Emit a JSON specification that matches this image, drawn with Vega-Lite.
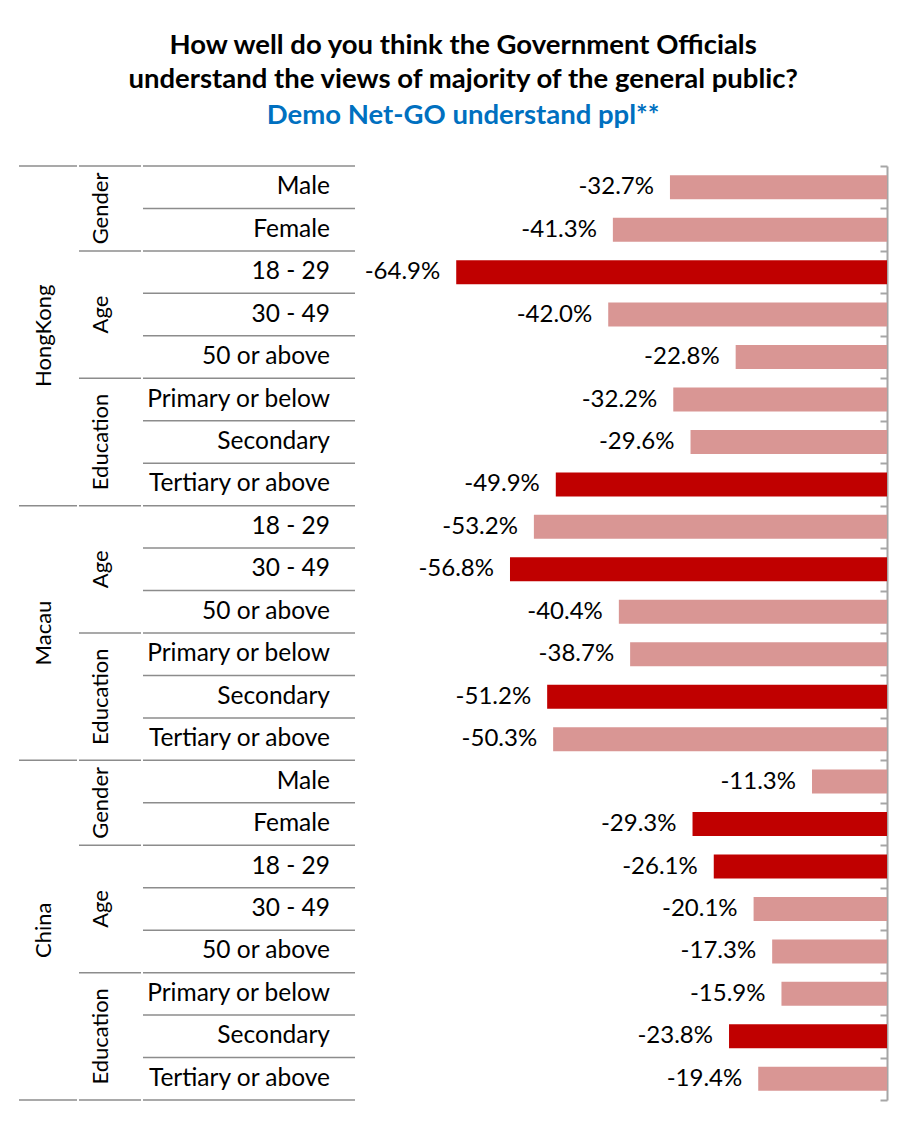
{
  "$schema": "https://vega.github.io/schema/vega-lite/v6.json",
  "padding": {"left": 18, "top": 32, "right": 5, "bottom": 5},
  "background": "white",
  "config": {
    "font": "Lato",
    "view": {"stroke": null},
    "locale": {"number": {"decimal": ".", "thousands": ",", "grouping": [3], "currency": ["$", ""], "minus": "-"}}
  },
  "title": {
    "text": ["How well do you think the Government Officials", "understand the views of majority of the general public?"],
    "subtitle": "Demo Net-GO understand ppl**",
    "anchor": "middle",
    "frame": "bounds",
    "dx": 10,
    "font": "Lato",
    "fontSize": 27.5,
    "fontWeight": "bold",
    "color": "#000000",
    "lineHeight": 34,
    "subtitleFont": "Lato",
    "subtitleFontSize": 27.5,
    "subtitleFontWeight": "bold",
    "subtitleColor": "#0070C0",
    "subtitleLineHeight": 34,
    "subtitlePadding": 8,
    "offset": 36
  },
  "data": {
    "values": [
      {"region": "HongKong", "group": "Gender", "label": "Male", "value": -0.327, "flag": "light"},
      {"region": "HongKong", "group": "Gender", "label": "Female", "value": -0.413, "flag": "light"},
      {"region": "HongKong", "group": "Age", "label": "18 - 29", "value": -0.649, "flag": "dark"},
      {"region": "HongKong", "group": "Age", "label": "30 - 49", "value": -0.420, "flag": "light"},
      {"region": "HongKong", "group": "Age", "label": "50 or above", "value": -0.228, "flag": "light"},
      {"region": "HongKong", "group": "Education", "label": "Primary or below", "value": -0.322, "flag": "light"},
      {"region": "HongKong", "group": "Education", "label": "Secondary", "value": -0.296, "flag": "light"},
      {"region": "HongKong", "group": "Education", "label": "Tertiary or above", "value": -0.499, "flag": "dark"},
      {"region": "Macau", "group": "Age", "label": "18 - 29", "value": -0.532, "flag": "light"},
      {"region": "Macau", "group": "Age", "label": "30 - 49", "value": -0.568, "flag": "dark"},
      {"region": "Macau", "group": "Age", "label": "50 or above", "value": -0.404, "flag": "light"},
      {"region": "Macau", "group": "Education", "label": "Primary or below", "value": -0.387, "flag": "light"},
      {"region": "Macau", "group": "Education", "label": "Secondary", "value": -0.512, "flag": "dark"},
      {"region": "Macau", "group": "Education", "label": "Tertiary or above", "value": -0.503, "flag": "light"},
      {"region": "China", "group": "Gender", "label": "Male", "value": -0.113, "flag": "light"},
      {"region": "China", "group": "Gender", "label": "Female", "value": -0.293, "flag": "dark"},
      {"region": "China", "group": "Age", "label": "18 - 29", "value": -0.261, "flag": "dark"},
      {"region": "China", "group": "Age", "label": "30 - 49", "value": -0.201, "flag": "light"},
      {"region": "China", "group": "Age", "label": "50 or above", "value": -0.173, "flag": "light"},
      {"region": "China", "group": "Education", "label": "Primary or below", "value": -0.159, "flag": "light"},
      {"region": "China", "group": "Education", "label": "Secondary", "value": -0.238, "flag": "dark"},
      {"region": "China", "group": "Education", "label": "Tertiary or above", "value": -0.194, "flag": "light"}
    ]
  },
  "transform": [
    {"window": [{"op": "row_number", "as": "row"}, {"op": "count", "as": "n"}], "frame": [null, null]},
    {"window": [{"op": "row_number", "as": "gi"}, {"op": "count", "as": "gn"}], "groupby": ["region", "group"], "sort": [{"field": "row"}], "frame": [null, null]},
    {"window": [{"op": "row_number", "as": "ri"}, {"op": "count", "as": "rn"}], "groupby": ["region"], "sort": [{"field": "row"}], "frame": [null, null]}
  ],
  "resolve": {"scale": {"y": "shared"}},
  "spacing": 0,
  "hconcat": [
    {
      "width": 58,
      "height": 934,
      "layer": [
        {
          "transform": [{"filter": "datum.ri == 1"}],
          "mark": {"type": "rule", "color": "#8C8C8C", "strokeWidth": 1.5},
          "encoding": {"y": {"field": "row", "type": "ordinal", "bandPosition": 0, "axis": null, "scale": {"paddingInner": 0, "paddingOuter": 0}}}
        },
        {
          "transform": [{"filter": "datum.row == datum.n"}],
          "mark": {"type": "rule", "color": "#8C8C8C", "strokeWidth": 1.5},
          "encoding": {"y": {"field": "row", "type": "ordinal", "bandPosition": 1, "axis": null}}
        },
        {
          "transform": [{"filter": "datum.rn % 2 == 0 && datum.ri == datum.rn / 2"}],
          "mark": {"type": "text", "angle": 270, "fontSize": 22, "dy": -4, "color": "#000000"},
          "encoding": {"y": {"field": "row", "type": "ordinal", "bandPosition": 1, "axis": null}, "text": {"field": "region"}}
        },
        {
          "transform": [{"filter": "datum.rn % 2 == 1 && datum.ri == (datum.rn + 1) / 2"}],
          "mark": {"type": "text", "angle": 270, "fontSize": 22, "dy": -4, "color": "#000000"},
          "encoding": {"y": {"field": "row", "type": "ordinal", "bandPosition": 0.5, "axis": null}, "text": {"field": "region"}}
        }
      ]
    },
    {
      "width": 62,
      "height": 934,
      "layer": [
        {
          "transform": [{"filter": "datum.gi == 1"}],
          "mark": {"type": "rule", "color": "#8C8C8C", "strokeWidth": 1.5},
          "encoding": {"y": {"field": "row", "type": "ordinal", "bandPosition": 0, "axis": null}}
        },
        {
          "transform": [{"filter": "datum.row == datum.n"}],
          "mark": {"type": "rule", "color": "#8C8C8C", "strokeWidth": 1.5},
          "encoding": {"y": {"field": "row", "type": "ordinal", "bandPosition": 1, "axis": null}}
        },
        {
          "transform": [{"filter": "datum.gn % 2 == 0 && datum.gi == datum.gn / 2"}],
          "mark": {"type": "text", "angle": 270, "fontSize": 22, "dy": -9, "color": "#000000"},
          "encoding": {"y": {"field": "row", "type": "ordinal", "bandPosition": 1, "axis": null}, "text": {"field": "group"}}
        },
        {
          "transform": [{"filter": "datum.gn % 2 == 1 && datum.gi == (datum.gn + 1) / 2"}],
          "mark": {"type": "text", "angle": 270, "fontSize": 22, "dy": -9, "color": "#000000"},
          "encoding": {"y": {"field": "row", "type": "ordinal", "bandPosition": 0.5, "axis": null}, "text": {"field": "group"}}
        }
      ]
    },
    {
      "width": 212,
      "height": 934,
      "layer": [
        {
          "mark": {"type": "rule", "color": "#8C8C8C", "strokeWidth": 1.5},
          "encoding": {"y": {"field": "row", "type": "ordinal", "bandPosition": 0, "axis": null}}
        },
        {
          "transform": [{"filter": "datum.row == datum.n"}],
          "mark": {"type": "rule", "color": "#8C8C8C", "strokeWidth": 1.5},
          "encoding": {"y": {"field": "row", "type": "ordinal", "bandPosition": 1, "axis": null}}
        },
        {
          "mark": {"type": "text", "align": "right", "dx": 81, "fontSize": 24.5, "color": "#000000"},
          "encoding": {"y": {"field": "row", "type": "ordinal", "axis": null}, "text": {"field": "label"}}
        }
      ]
    },
    {
      "width": 531,
      "height": 934,
      "encoding": {
        "y": {"field": "row", "type": "ordinal", "axis": {"orient": "right", "labels": false, "title": null, "tickBand": "extent", "tickSize": -7, "domainColor": "#A6A6A6", "tickColor": "#A6A6A6", "domainWidth": 2, "tickWidth": 2, "grid": false}}
      },
      "layer": [
        {
          "mark": {"type": "bar", "height": {"band": 0.565}},
          "encoding": {
            "x": {"field": "value", "type": "quantitative", "scale": {"domain": [-0.8, 0], "nice": false}, "axis": null},
            "color": {"field": "flag", "type": "nominal", "scale": {"domain": ["dark", "light"], "range": ["#C00000", "#D99694"]}, "legend": null}
          }
        },
        {
          "mark": {"type": "text", "align": "right", "dx": -16, "fontSize": 24, "color": "#000000"},
          "encoding": {
            "x": {"field": "value", "type": "quantitative"},
            "text": {"field": "value", "type": "quantitative", "format": ".1%"}
          }
        }
      ]
    }
  ]
}
